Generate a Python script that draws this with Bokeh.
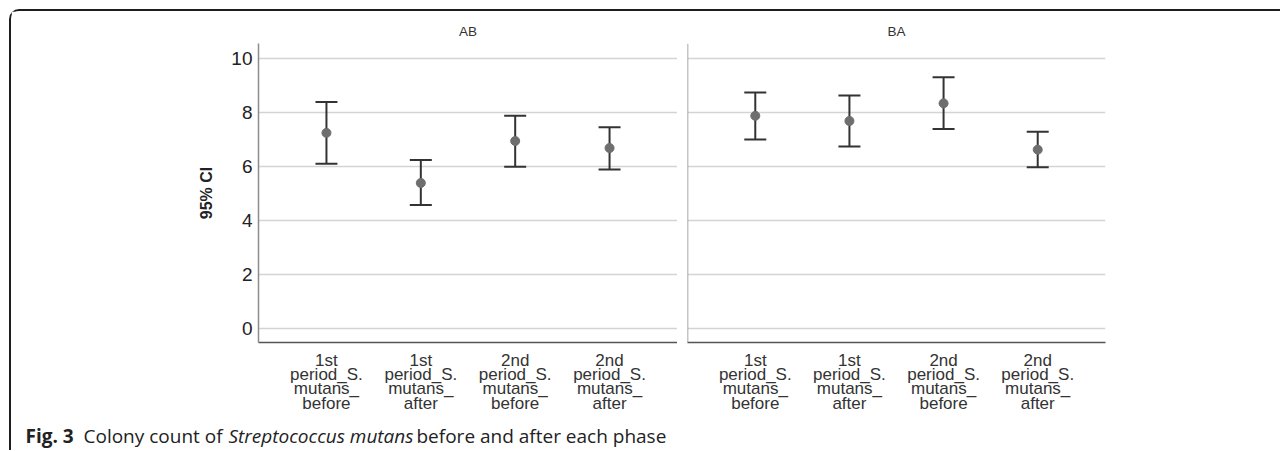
from bokeh.plotting import figure
from bokeh.layouts import row, column
from bokeh.models import (Range1d, FixedTicker, ColumnDataSource, Whisker, TeeHead,
                          Span, Label)
from bokeh.embed import file_html
from bokeh.resources import INLINE

# ---------------- data ----------------
panels = ["AB", "BA"]
categories = [
    "1st\nperiod_S.\nmutans_\nbefore",
    "1st\nperiod_S.\nmutans_\nafter",
    "2nd\nperiod_S.\nmutans_\nbefore",
    "2nd\nperiod_S.\nmutans_\nafter",
]
ab_mean = [7.24, 5.39, 6.94, 6.68]
ab_lower = [6.10, 4.58, 5.99, 5.89]
ab_upper = [8.38, 6.24, 7.87, 7.45]
ba_mean = [7.87, 7.68, 8.33, 6.62]
ba_lower = [7.00, 6.74, 7.38, 5.97]
ba_upper = [8.73, 8.62, 9.29, 7.28]
y_ticks = [0, 2, 4, 6, 8, 10]
y_label = "95% CI"
caption_parts = [("Fig. 3", "bold"), ("Colony count of", "normal"),
                 ("Streptococcus mutans", "italic"), ("before and after each phase", "normal")]

FONT = "Liberation Sans"
y_range = Range1d(-0.5, 10.54)
x_idx = list(range(len(categories)))
overrides = {i: c for i, c in enumerate(categories)}


def make_panel(title, mean, lower, upper, width, left, right, first):
    p = figure(width=width, height=404, output_backend="svg", toolbar_location=None,
               x_range=Range1d(-0.72, 3.72), y_range=y_range,
               min_border_left=left, min_border_right=right,
               min_border_top=32, min_border_bottom=72,
               y_axis_location="left" if first else None, title=title)
    p.outline_line_color = None
    p.background_fill_color = "white"
    p.border_fill_color = "white"
    p.title.align = "center"
    p.title.text_font = FONT
    p.title.text_font_size = "13.5px"
    p.title.text_font_style = "normal"
    p.title.text_color = "#333333"
    p.title.standoff = 9

    # x axis
    xa = p.xaxis[0]
    xa.ticker = FixedTicker(ticks=x_idx)
    xa.major_label_overrides = overrides
    xa.major_label_text_font = FONT
    xa.major_label_text_font_size = "17px"
    xa.major_label_text_color = "#333333"
    xa.major_label_text_line_height = 0.76
    xa.major_label_standoff = 8
    xa.major_tick_out = 0
    xa.major_tick_in = 0
    xa.major_tick_line_color = None
    xa.minor_tick_line_color = None
    xa.axis_line_color = "#555555"
    xa.axis_line_width = 1.5

    p.xgrid.visible = False
    p.ygrid.ticker = FixedTicker(ticks=y_ticks)
    p.ygrid.grid_line_color = "#d4d4d4"
    p.ygrid.grid_line_width = 1.5

    if first:
        ya = p.yaxis[0]
        ya.ticker = FixedTicker(ticks=y_ticks)
        ya.major_label_text_font = FONT
        ya.major_label_text_font_size = "19px"
        ya.major_label_text_color = "#222222"
        ya.major_tick_out = 0
        ya.major_tick_in = 0
        ya.major_tick_line_color = None
        ya.minor_tick_line_color = None
        ya.major_label_standoff = 6
        ya.axis_line_color = "#8c8c8c"
        ya.axis_line_width = 1.5
        ya.axis_label = y_label
        ya.axis_label_text_font = FONT
        ya.axis_label_text_font_size = "16px"
        ya.axis_label_text_font_style = "bold"
        ya.axis_label_text_color = "#222222"
        ya.axis_label_standoff = 13
    else:
        p.add_layout(Span(location=p.x_range.start, dimension="height",
                          line_color="#8c8c8c", line_width=1.5))

    src = ColumnDataSource(dict(x=x_idx, mean=mean, lower=lower, upper=upper))
    w = Whisker(source=src, base="x", upper="upper", lower="lower",
                line_color="#333333", line_width=2,
                upper_head=TeeHead(size=22, line_color="#333333", line_width=2),
                lower_head=TeeHead(size=22, line_color="#333333", line_width=2))
    p.add_layout(w)
    p.scatter("x", "mean", source=src, size=9, color="#6e6e6e")
    return p


pA = make_panel(panels[0], ab_mean, ab_lower, ab_upper, 666, 247, 0, True)
pB = make_panel(panels[1], ba_mean, ba_lower, ba_upper, 603, 10, 175, False)

# caption strip
cap = figure(width=1269, height=35, output_backend="svg", toolbar_location=None,
             x_range=Range1d(0, 1269), y_range=Range1d(0, 35),
             min_border=0, x_axis_location=None, y_axis_location=None)
cap.outline_line_color = None
cap.grid.visible = False
cap.background_fill_color = "white"
cap.border_fill_color = "white"
cap_x = [14, 72, 217, 405]
for (txt, style), cx in zip(caption_parts, cap_x):
    cap.add_layout(Label(x=cx, y=15, x_units="screen", y_units="screen", text=txt,
                         text_font="Open Sans", text_font_size="19px",
                         text_font_style=style, text_color="#222222",
                         text_baseline="alphabetic"))

layout = column(row(pA, pB), cap,
                styles={"margin-left": "9px", "margin-top": "9px",
                        "border-top": "2px solid #1e1e1e",
                        "border-left": "2px solid #1e1e1e",
                        "border-top-left-radius": "10px"})

open("out.html", "w").write(file_html(layout, INLINE))
